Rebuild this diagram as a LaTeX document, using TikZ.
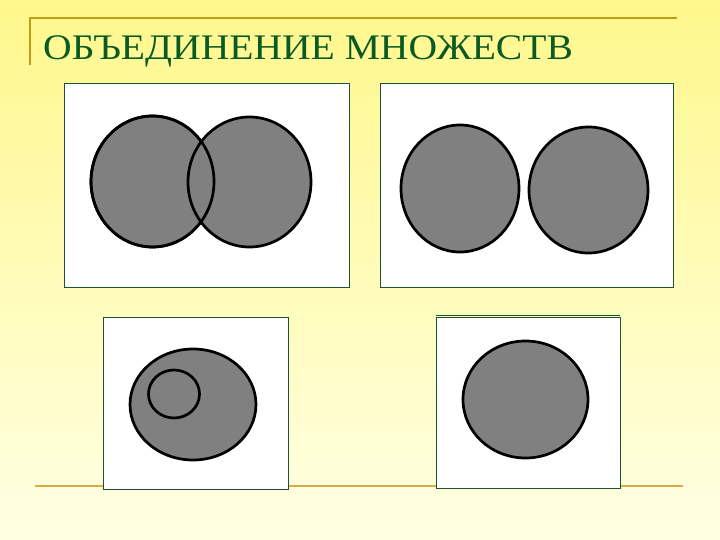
\documentclass[tikz,border=0pt]{standalone}
\usepackage{fontspec}
\usepackage{graphicx}
\setmainfont{Liberation Serif}
\definecolor{bgtop}{RGB}{255,247,140}
\definecolor{bgbot}{RGB}{255,255,228}
\definecolor{titleline}{RGB}{190,158,20}
\definecolor{bottomline}{RGB}{215,172,70}
\definecolor{titlegreen}{RGB}{10,90,35}
\definecolor{boxedge}{RGB}{30,80,50}
\definecolor{setgrey}{RGB}{128,128,128}
\begin{document}
\begin{tikzpicture}[x=1pt,y=-1pt,
  panel/.style={draw=boxedge,line width=0.8pt,fill=white},
  setshape/.style={draw=black,line width=2.7pt,fill=setgrey},
  inner/.style={draw=black,line width=2.7pt}]
\useasboundingbox (0,0) rectangle (720,540);
\shade[top color=bgtop,bottom color=bgbot] (0,0) rectangle (720,540);
% title frame lines
\draw[titleline,line width=2pt] (30,18) -- (677,18);
\draw[titleline,line width=2pt] (30,17) -- (30,65);
\node[anchor=base west,inner sep=0pt,text=titlegreen,font=\fontsize{36}{36}\selectfont] (title) at (43,60) {\scalebox{1.1}[1]{ОБЪЕДИНЕНИЕ МНОЖЕСТВ}};
% bottom line
\draw[bottomline,line width=2.2pt] (35,486) -- (683,486);
% panel 1: overlapping sets
\draw[panel] (64,83) rectangle (349,287);
\path[setshape] (152.5,181.5) ellipse [x radius=61.5,y radius=65.5];
\path[setshape] (249.5,182) ellipse [x radius=61.5,y radius=65];
\draw[inner] (152.5,181.5) ellipse [x radius=61.5,y radius=65.5];
% panel 2: disjoint sets
\draw[panel] (380,83) rectangle (673,287);
\path[setshape] (460,188.5) ellipse [x radius=59,y radius=63.5];
\path[setshape] (588.5,190) ellipse [x radius=59.5,y radius=63];
% panel 3: subset
\draw[panel] (103,317) rectangle (288,489);
\path[setshape] (193,404.5) ellipse [x radius=63,y radius=55.5];
\draw[inner] (174,394) ellipse [x radius=25.5,y radius=24];
% panel 4: single set
\draw[panel] (436,317) rectangle (620,488);
\draw[boxedge,line width=0.6pt] (436,315.5) -- (620,315.5);
\path[setshape] (525.5,399.5) ellipse [x radius=62.5,y radius=58.5];
\end{tikzpicture}
\end{document}
